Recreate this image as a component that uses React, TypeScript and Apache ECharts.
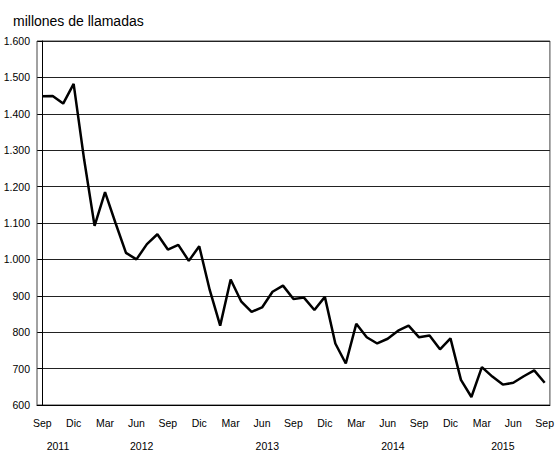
import React, { useEffect, useRef } from "react";
import * as echarts from "echarts";

const monthNames = ["Ene", "Feb", "Mar", "Abr", "May", "Jun", "Jul", "Ago", "Sep", "Oct", "Nov", "Dic"];
const startYear = 2011;
const startMonth = 8; // Sep (0-based)
const values = [
  1448, 1449, 1428, 1482, 1275, 1092, 1185, 1100, 1018, 1000,
  1042, 1069, 1027, 1040, 996, 1036, 916, 818, 945, 885,
  856, 868, 911, 928, 891, 895, 861, 897, 769, 714,
  823, 786, 769, 782, 804, 818, 786, 791, 753, 783,
  669, 622, 704, 678, 656, 661, 679, 695, 661,
];
const yTicks = [600, 700, 800, 900, 1000, 1100, 1200, 1300, 1400, 1500, 1600];
const titleText = "millones de llamadas";

const periods = values.map((_, i) => {
  const m = startMonth + i;
  return { year: startYear + Math.floor(m / 12), month: monthNames[m % 12] };
});
const categories = periods.map((p) => `${p.month} ${p.year}`);
const years = Array.from(new Set(periods.map((p) => p.year)));
const yearCenters = years.map((y) => {
  const idx = periods.map((p, i) => (p.year === y ? i : -1)).filter((i) => i >= 0);
  return (idx[0] + idx[idx.length - 1]) / 2;
});

const fmt = (v: number) =>
  v >= 1000 ? `${Math.floor(v / 1000)}.${String(v % 1000).padStart(3, "0")}` : String(v);

const FONT = "'Liberation Sans', Arial, sans-serif";

export default function App() {
  const ref = useRef<HTMLDivElement>(null);
  useEffect(() => {
    if (!ref.current) return;
    const chart = echarts.init(ref.current, null, { renderer: "svg" });
    chart.setOption({
      animation: false,
      backgroundColor: "#ffffff",
      textStyle: { fontFamily: FONT },
      title: {
        text: titleText,
        left: 13,
        top: 14,
        padding: 0,
        textStyle: { fontSize: 14, fontWeight: "normal", color: "#000", fontFamily: FONT },
      },
      grid: {
        left: 37,
        right: 5,
        top: 41,
        bottom: 42,
        show: true,
        borderColor: "#444",
        borderWidth: 1,
        containLabel: false,
      },
      xAxis: [
        {
          type: "category",
          data: categories,
          boundaryGap: true,
          axisLine: { show: true, lineStyle: { color: "#000", width: 1 } },
          axisTick: { show: false },
          splitLine: { show: false },
          axisLabel: {
            interval: 2,
            margin: 12,
            fontSize: 10.5,
            color: "#000",
            fontFamily: FONT,
            formatter: (v: string) => v.split(" ")[0],
          },
        },
        {
          type: "value",
          position: "bottom",
          min: -0.5,
          max: values.length - 0.5,
          offset: 25,
          axisLine: { show: false },
          axisTick: { show: false },
          splitLine: { show: false },
          axisLabel: {
            customValues: yearCenters,
            margin: 10,
            fontSize: 10.5,
            color: "#000",
            fontFamily: FONT,
            formatter: (v: number) => {
              const k = yearCenters.findIndex((c) => Math.abs(c - v) < 1e-6);
              return k >= 0 ? String(years[k]) : "";
            },
          },
        },
      ],
      yAxis: {
        type: "value",
        min: yTicks[0],
        max: yTicks[yTicks.length - 1],
        interval: yTicks[1] - yTicks[0],
        axisLine: { show: true, lineStyle: { color: "#000", width: 1 } },
        axisTick: { show: true, length: 4, lineStyle: { color: "#000" } },
        splitLine: { show: true, lineStyle: { color: "#222", width: 1 } },
        axisLabel: {
          margin: 7,
          fontSize: 10.5,
          color: "#000",
          fontFamily: FONT,
          formatter: (v: number) => fmt(v),
        },
      },
      series: [
        {
          type: "line",
          xAxisIndex: 0,
          data: values,
          symbol: "none",
          lineStyle: { color: "#000", width: 2.5 },
          itemStyle: { color: "#000" },
        },
      ],
    });
    return () => chart.dispose();
  }, []);
  return (
    <div
      ref={ref}
      style={{ position: "fixed", left: 0, top: 0, width: 557, height: 451, background: "#fff" }}
    />
  );
}
